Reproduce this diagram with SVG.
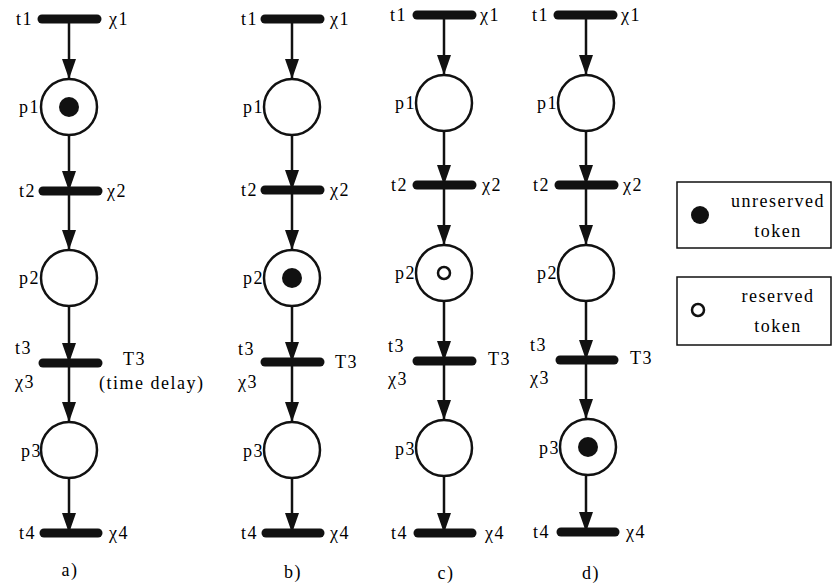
<svg xmlns="http://www.w3.org/2000/svg" width="833" height="588" viewBox="0 0 833 588" font-family="'Liberation Serif', 'DejaVu Serif', serif">
<style>
text{font-family:'Liberation Serif','DejaVu Serif',serif;font-size:18px;fill:#000;letter-spacing:1.5px}
.e{text-anchor:end}
.m{text-anchor:middle}
.bar{stroke:#111;stroke-width:9;stroke-linecap:round}
.pl{fill:#fff;stroke:#111;stroke-width:2.5}
.tok{fill:#111}
.rtok{fill:none;stroke:#111;stroke-width:2.5}
.arc{stroke:#111;stroke-width:2.5;fill:none;marker-end:url(#ah)}
.box{fill:#fff;stroke:#111;stroke-width:1.5}
</style>
<defs>
<marker id="ah" markerUnits="userSpaceOnUse" markerWidth="20" markerHeight="14" refX="20" refY="7" orient="auto">
<path d="M0,0 L20,7 L0,14 z" fill="#111"/>
</marker>
</defs>
<rect width="833" height="588" fill="#fff"/>
<g id="connectors">
<line class="arc" x1="69" y1="19" x2="69" y2="79"/>
<line class="arc" x1="69" y1="135" x2="69" y2="191"/>
<line class="arc" x1="69" y1="191" x2="69" y2="250"/>
<line class="arc" x1="69" y1="306" x2="69" y2="363"/>
<line class="arc" x1="69" y1="363" x2="69" y2="422"/>
<line class="arc" x1="69" y1="478" x2="69" y2="533"/>
<line class="arc" x1="292" y1="19" x2="292" y2="79"/>
<line class="arc" x1="292" y1="135" x2="292" y2="190"/>
<line class="arc" x1="292" y1="190" x2="292" y2="250"/>
<line class="arc" x1="292" y1="306" x2="292" y2="362"/>
<line class="arc" x1="292" y1="362" x2="292" y2="422"/>
<line class="arc" x1="292" y1="478" x2="292" y2="533"/>
<line class="arc" x1="444" y1="15" x2="444" y2="75"/>
<line class="arc" x1="444" y1="131" x2="444" y2="185"/>
<line class="arc" x1="444" y1="185" x2="444" y2="245"/>
<line class="arc" x1="444" y1="301" x2="444" y2="361"/>
<line class="arc" x1="444" y1="361" x2="444" y2="420"/>
<line class="arc" x1="444" y1="476" x2="444" y2="533"/>
<line class="arc" x1="586" y1="15" x2="586" y2="75"/>
<line class="arc" x1="586" y1="131" x2="586" y2="185"/>
<line class="arc" x1="586" y1="185" x2="586" y2="245"/>
<line class="arc" x1="586" y1="301" x2="586" y2="360"/>
<line class="arc" x1="586" y1="360" x2="586" y2="419"/>
<line class="arc" x1="586" y1="475" x2="586" y2="532"/>
</g>
<g id="a_t1"><line class="bar" x1="42" y1="19" x2="97" y2="19"/><text class="e" x="33" y="25">t1</text><text x="109" y="25">χ1</text></g>
<g id="a_p1"><circle class="pl" cx="69" cy="107" r="28"/><circle class="tok" cx="69" cy="107" r="10"/><text class="e" x="40" y="113">p1</text></g>
<g id="a_t2"><line class="bar" x1="43" y1="191" x2="98" y2="191"/><text class="e" x="36" y="197">t2</text><text x="107" y="197">χ2</text></g>
<g id="a_p2"><circle class="pl" cx="69" cy="278" r="28"/><text class="e" x="40" y="284">p2</text></g>
<g id="a_t3"><line class="bar" x1="43" y1="363" x2="98" y2="363"/><text x="15" y="354">t3</text><text x="15" y="388">χ3</text><text x="123" y="365">T3</text><text x="99" y="389">(time delay)</text></g>
<g id="a_p3"><circle class="pl" cx="69" cy="450" r="28"/><text class="e" x="42" y="457">p3</text></g>
<g id="a_t4"><line class="bar" x1="44" y1="533" x2="98" y2="533"/><text class="e" x="36" y="539">t4</text><text x="109" y="539">χ4</text></g>
<text class="m" x="70" y="576">a)</text>
<g id="b_t1"><line class="bar" x1="265" y1="19" x2="320" y2="19"/><text class="e" x="258" y="25">t1</text><text x="330" y="25">χ1</text></g>
<g id="b_p1"><circle class="pl" cx="292" cy="107" r="28"/><text class="e" x="264" y="113">p1</text></g>
<g id="b_t2"><line class="bar" x1="265" y1="190" x2="320" y2="190"/><text class="e" x="258" y="196">t2</text><text x="330" y="196">χ2</text></g>
<g id="b_p2"><circle class="pl" cx="292" cy="278" r="28"/><circle class="tok" cx="292" cy="278" r="10"/><text class="e" x="264" y="284">p2</text></g>
<g id="b_t3"><line class="bar" x1="265" y1="362" x2="320" y2="362"/><text x="238" y="355">t3</text><text x="238" y="388">χ3</text><text x="335" y="368">T3</text></g>
<g id="b_p3"><circle class="pl" cx="292" cy="450" r="28"/><text class="e" x="264" y="457">p3</text></g>
<g id="b_t4"><line class="bar" x1="266" y1="533" x2="320" y2="533"/><text class="e" x="258" y="539">t4</text><text x="330" y="539">χ4</text></g>
<text class="m" x="293" y="578">b)</text>
<g id="c_t1"><line class="bar" x1="417" y1="15" x2="472" y2="15"/><text class="e" x="407" y="21">t1</text><text x="480" y="21">χ1</text></g>
<g id="c_p1"><circle class="pl" cx="444" cy="103" r="28"/><text class="e" x="416" y="109">p1</text></g>
<g id="c_t2"><line class="bar" x1="417" y1="185" x2="472" y2="185"/><text class="e" x="408" y="191">t2</text><text x="482" y="191">χ2</text></g>
<g id="c_p2"><circle class="pl" cx="444" cy="273" r="28"/><circle class="rtok" cx="444" cy="273" r="6"/><text class="e" x="416" y="279">p2</text></g>
<g id="c_t3"><line class="bar" x1="417" y1="361" x2="472" y2="361"/><text x="388" y="352">t3</text><text x="388" y="385">χ3</text><text x="488" y="365">T3</text></g>
<g id="c_p3"><circle class="pl" cx="444" cy="448" r="28"/><text class="e" x="416" y="455">p3</text></g>
<g id="c_t4"><line class="bar" x1="418" y1="533" x2="472" y2="533"/><text class="e" x="408" y="539">t4</text><text x="485" y="539">χ4</text></g>
<text class="m" x="446" y="579">c)</text>
<g id="d_t1"><line class="bar" x1="558" y1="15" x2="613" y2="15"/><text class="e" x="549" y="21">t1</text><text x="621" y="21">χ1</text></g>
<g id="d_p1"><circle class="pl" cx="586" cy="103" r="28"/><text class="e" x="558" y="109">p1</text></g>
<g id="d_t2"><line class="bar" x1="559" y1="185" x2="614" y2="185"/><text class="e" x="550" y="191">t2</text><text x="623" y="191">χ2</text></g>
<g id="d_p2"><circle class="pl" cx="586" cy="273" r="28"/><text class="e" x="558" y="279">p2</text></g>
<g id="d_t3"><line class="bar" x1="560" y1="360" x2="614" y2="360"/><text x="530" y="351">t3</text><text x="530" y="384">χ3</text><text x="630" y="364">T3</text></g>
<g id="d_p3"><circle class="pl" cx="588" cy="447" r="28"/><circle class="tok" cx="588" cy="447" r="10"/><text class="e" x="560" y="454">p3</text></g>
<g id="d_t4"><line class="bar" x1="561" y1="532" x2="615" y2="532"/><text class="e" x="550" y="538">t4</text><text x="626" y="538">χ4</text></g>
<text class="m" x="591" y="579">d)</text>
<g id="legend_unreserved"><rect class="box" x="677" y="182" width="154" height="66"/><circle class="tok" cx="700" cy="215" r="9"/><text class="m" x="778" y="207">unreserved</text><text class="m" x="778" y="237">token</text></g>
<g id="legend_reserved"><rect class="box" x="677" y="277" width="154" height="68"/><circle class="rtok" cx="698" cy="310" r="6"/><text class="m" x="778" y="302">reserved</text><text class="m" x="778" y="332">token</text></g>
</svg>
